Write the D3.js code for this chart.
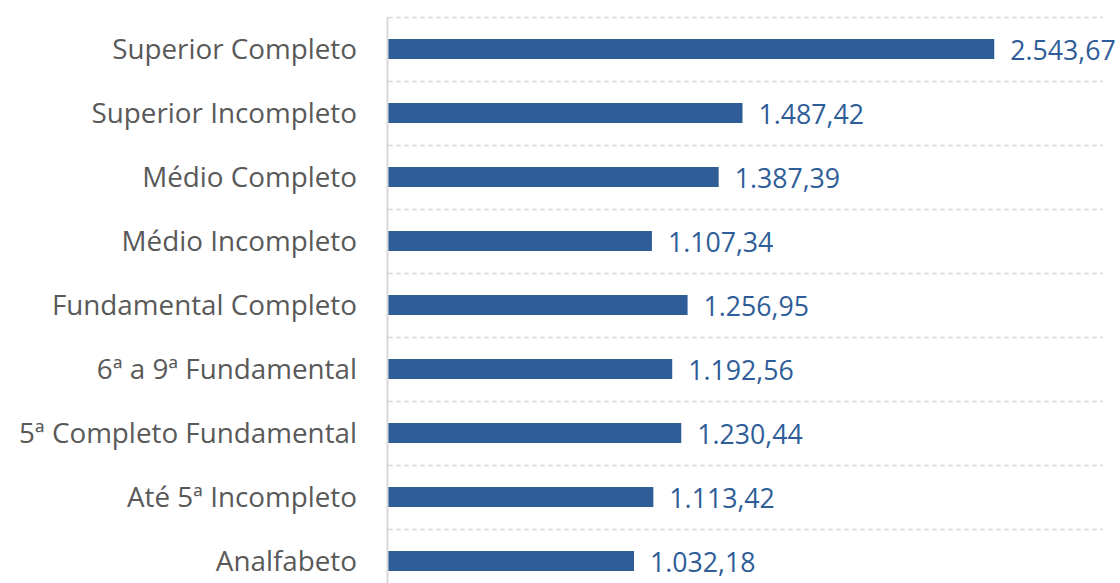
<!DOCTYPE html>
<html>
<head>
<meta charset="utf-8">
<script src="https://cdn.jsdelivr.net/npm/d3@7"></script>
<style>
  html, body { margin: 0; padding: 0; background: #fff; }
  svg { display: block; }
  text { font-family: "Open Sans", "Noto Sans", sans-serif; }
</style>
</head>
<body>
<svg id="chart" width="1120" height="583"></svg>
<script>
const categories = [
  "Superior Completo",
  "Superior Incompleto",
  "Médio Completo",
  "Médio Incompleto",
  "Fundamental Completo",
  "6ª a 9ª Fundamental",
  "5ª Completo Fundamental",
  "Até 5ª Incompleto",
  "Analfabeto"
];
const values = [2543.67, 1487.42, 1387.39, 1107.34, 1256.95, 1192.56, 1230.44, 1113.42, 1032.18];
const xDomain = [0, 3000];

(function () {
const svg = d3.select("#chart");
const mLeft = 388, mRight = 1103, mTop = 17, step = 64;
const mBottom = mTop + step * categories.length;

const x = d3.scaleLinear().domain(xDomain).range([mLeft, mRight]);
const p = 1 - 20 / 64;
const y = d3.scaleBand().domain(categories).range([mTop, mBottom])
  .paddingInner(p).paddingOuter(p / 2);

const locale = d3.formatLocale({ decimal: ",", thousands: ".", grouping: [3], currency: ["R$", ""] });
const fmt = locale.format(",.2f");

// gridlines between categories (dashed)
const gridYs = d3.range(categories.length).map(i => mTop + i * step);
svg.append("g").selectAll("line").data(gridYs).join("line")
  .attr("x1", mLeft).attr("x2", mRight)
  .attr("y1", d => d + 0.5).attr("y2", d => d + 0.5)
  .attr("stroke", "#d9d9d9").attr("stroke-width", 1.3)
  .attr("stroke-dasharray", "5,3");

// bars
svg.append("g").selectAll("rect").data(categories).join("rect")
  .attr("x", x(0))
  .attr("y", d => y(d))
  .attr("width", (d, i) => x(values[i]) - x(0))
  .attr("height", y.bandwidth())
  .attr("fill", "#2e5d98");

// y axis
const yAxis = d3.axisLeft(y).tickSize(0).tickPadding(31);
const gy = svg.append("g").attr("transform", `translate(${mLeft},0)`).call(yAxis);
gy.select(".domain").remove();
gy.selectAll("text")
  .attr("font-size", 27.8)
  .attr("fill", "#595959")
  .attr("font-family", "'Open Sans', sans-serif")
  .attr("dy", "0.36em");

// axis line
svg.append("line")
  .attr("x1", mLeft - 0.5).attr("x2", mLeft - 0.5)
  .attr("y1", mTop).attr("y2", 583)
  .attr("stroke", "#d9d9d9").attr("stroke-width", 2);

// value labels
svg.append("g").selectAll("text").data(categories).join("text")
  .attr("x", (d, i) => x(values[i]) + 16)
  .attr("y", d => y(d) + y.bandwidth() / 2)
  .attr("dy", "0.43em")
  .attr("font-size", 26.7)
  .attr("fill", "#2e5d98")
  .text((d, i) => fmt(values[i]));
})();
</script>
</body>
</html>
